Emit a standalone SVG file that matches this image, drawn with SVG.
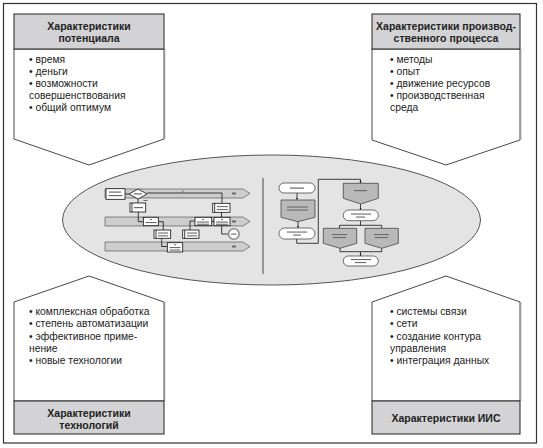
<svg xmlns="http://www.w3.org/2000/svg" width="543" height="448" viewBox="0 0 543 448">
<style>
.hd{font-family:"Liberation Sans",Arial,sans-serif;font-weight:bold;font-size:10.5px;fill:#222;text-anchor:middle}
.bd{font-family:"Liberation Sans",Arial,sans-serif;font-size:10.3px;fill:#222}
.body{fill:#fff;stroke:#333;stroke-width:0.9}
.shade{stroke:#9a9a9a;stroke-width:1.6;fill:none}
.head{fill:#d3d3d5;stroke:#222;stroke-width:1}
.bar{fill:#cdcdcd;stroke:#444;stroke-width:0.6}
.bx{fill:#fff;stroke:#111;stroke-width:0.8}
.pb{fill:#b9b9b9;stroke:#333;stroke-width:0.7}
.pill{fill:#fff;stroke:#333;stroke-width:0.7}
.ln{fill:none;stroke:#111;stroke-width:0.8}
.mt{fill:#6a6a6a}
</style>
<defs>
<marker id="ah" viewBox="0 0 6 6" refX="5" refY="3" markerWidth="3" markerHeight="3" orient="auto"><path d="M0,0 L6,3 L0,6 z" fill="#111"/></marker>
</defs>
<rect x="3.5" y="3.5" width="533" height="439.5" fill="#fff" stroke="#333" stroke-width="1.2"/>

<g id="node-potential">
<polygon class="body" points="14,49 164,49 164,139 89,165 14,139"/>
<line class="shade" x1="164.5" y1="49" x2="164.5" y2="139"/>
<rect class="head" x="14" y="14" width="150" height="35"/>
<text class="hd" x="89" y="30">Характеристики</text>
<text class="hd" x="89" y="42">потенциала</text>
<text class="bd" x="29" y="63">• время</text>
<text class="bd" x="29" y="75">• деньги</text>
<text class="bd" x="29" y="87">• возможности</text>
<text class="bd" x="29" y="99">совершенствования</text>
<text class="bd" x="29" y="111">• общий оптимум</text>
</g>

<g id="node-process">
<polygon class="body" points="372,49 520,49 520,140 446,165 372,140"/>
<line class="shade" x1="520.5" y1="49" x2="520.5" y2="140"/>
<rect class="head" x="372" y="14" width="148" height="35"/>
<text class="hd" x="446" y="30">Характеристики производ-</text>
<text class="hd" x="446" y="42">ственного процесса</text>
<text class="bd" x="390" y="63">• методы</text>
<text class="bd" x="390" y="75">• опыт</text>
<text class="bd" x="390" y="87">• движение ресурсов</text>
<text class="bd" x="390" y="99">• производственная</text>
<text class="bd" x="390" y="111">среда</text>
</g>

<g id="node-technology">
<polygon class="body" points="14,401 14,302 89,276 164,302 164,401"/>
<line class="shade" x1="164.5" y1="302" x2="164.5" y2="401"/>
<rect class="head" x="14" y="401" width="150" height="33"/>
<text class="hd" x="89" y="416.5">Характеристики</text>
<text class="hd" x="89" y="429">технологий</text>
<text class="bd" x="29" y="315">• комплексная обработка</text>
<text class="bd" x="29" y="327.3">• степень автоматизации</text>
<text class="bd" x="29" y="339.6">• эффективное приме-</text>
<text class="bd" x="29" y="352">нение</text>
<text class="bd" x="29" y="364.3">• новые технологии</text>
</g>

<g id="node-iis">
<polygon class="body" points="372,401 372,302 446,276 520,302 520,401"/>
<line class="shade" x1="520.5" y1="302" x2="520.5" y2="401"/>
<rect class="head" x="372" y="401" width="148" height="33"/>
<text class="hd" x="446" y="421.7">Характеристики ИИС</text>
<text class="bd" x="390" y="315">• системы связи</text>
<text class="bd" x="390" y="327.3">• сети</text>
<text class="bd" x="390" y="339.6">• создание контура</text>
<text class="bd" x="390" y="352">управления</text>
<text class="bd" x="390" y="364.3">• интеграция данных</text>
</g>

<g id="node-center">
<ellipse cx="271.5" cy="220" rx="209" ry="65" fill="#e4e4e4" stroke="#555" stroke-width="1"/>
<line x1="263" y1="178" x2="263" y2="274" stroke="#333" stroke-width="0.9"/>

<!-- left swimlane sketch -->
<polygon class="bar" points="105,189 243,189 250,193.5 243,198 105,198"/>
<polygon class="bar" points="105,217 243,217 250,221.5 243,226 105,226"/>
<polygon class="bar" points="105,242 243,242 250,246.5 243,251 105,251"/>
<rect class="mt" x="232" y="192.5" width="4" height="2"/>
<rect class="mt" x="232" y="220.5" width="4" height="2"/>
<rect class="mt" x="232" y="245.5" width="4" height="2"/>

<g class="ln">
<path d="M125,194 H129"/>
<path d="M147,193 H222 V203.3"/>
<path d="M138,199 V203"/>
<path d="M138.3,212 V221.7 H143.3"/>
<path d="M158.3,221.7 H163.3 V230"/>
<path d="M161.7,238.3 V246.5 H167.3"/>
<path d="M190,230 V221 H195"/>
<path d="M211.7,221.5 H214"/>
<path d="M221.5,212.3 V217.3"/>
<path d="M221.7,225.7 V234 H228"/>
</g>
<rect class="mt" x="182.5" y="190.5" width="1" height="2"/>

<rect class="bx" x="106" y="188.7" width="19" height="10.6"/>
<rect class="mt" x="109" y="191.5" width="12" height="1.2"/>
<rect class="mt" x="108.5" y="195" width="14" height="1.2"/>
<polygon class="bx" points="129,194 138,189 147,194 138,199"/>
<rect class="mt" x="134" y="193.3" width="8" height="1.2"/>
<rect class="mt" x="143.5" y="200" width="4" height="1"/>

<rect class="bx" x="130" y="203" width="15.7" height="9"/>
<line class="ln" x1="132" y1="203" x2="132" y2="212"/>
<rect class="mt" x="134" y="207" width="9" height="1.2"/>

<rect class="bx" x="212.7" y="203.3" width="17.3" height="9"/>
<line class="ln" x1="214.7" y1="203.3" x2="214.7" y2="212.3"/>
<rect class="mt" x="217" y="206" width="11" height="1.1"/>
<rect class="mt" x="217" y="209" width="11" height="1.1"/>

<rect class="bx" x="143.3" y="217.3" width="15" height="8.4"/>
<rect class="mt" x="150" y="219" width="2" height="1"/>
<rect class="mt" x="145.5" y="222" width="11" height="1.1"/>

<rect class="bx" x="154" y="230" width="16.7" height="8.3"/>
<line class="ln" x1="156" y1="230" x2="156" y2="238.3"/>
<rect class="mt" x="158" y="232.5" width="10" height="1.1"/>
<rect class="mt" x="158" y="235.3" width="10" height="1.1"/>

<rect class="bx" x="167.3" y="242.7" width="15.4" height="9.3"/>
<rect class="mt" x="174" y="244.3" width="2" height="1"/>
<rect class="mt" x="169.5" y="247" width="11" height="1.1"/>
<rect class="mt" x="169.5" y="249.5" width="11" height="1.1"/>

<rect class="bx" x="182.7" y="230" width="16.3" height="8.3"/>
<line class="ln" x1="184.7" y1="230" x2="184.7" y2="238.3"/>
<rect class="mt" x="187" y="232.5" width="10" height="1.1"/>
<rect class="mt" x="187" y="235.3" width="10" height="1.1"/>

<rect class="bx" x="195" y="217.3" width="16.7" height="8.4"/>
<rect class="mt" x="202" y="219" width="2" height="1"/>
<rect class="mt" x="197" y="221.5" width="12" height="1.1"/>
<rect class="mt" x="197" y="223.7" width="12" height="1.1"/>

<rect class="bx" x="214" y="217.3" width="16" height="8.4"/>
<rect class="mt" x="221" y="219" width="2" height="1"/>
<rect class="mt" x="216" y="221.5" width="12" height="1.1"/>
<rect class="mt" x="216" y="223.7" width="12" height="1.1"/>

<circle cx="233.8" cy="234" r="5.3" fill="#fff" stroke="#8a8a8a" stroke-width="1.6"/>
<rect class="mt" x="231" y="233.5" width="5.6" height="1.1"/>

<!-- right flowchart sketch -->
<g class="ln">
<path d="M297,193 V199.5" marker-end="url(#ah)"/>
<path d="M298,222 V227.5" marker-end="url(#ah)"/>
<path d="M296.7,239 V243.3 H318.3 V179.3 H360.5 V182.8" marker-end="url(#ah)"/>
<path d="M360.5,204 V209.5" marker-end="url(#ah)"/>
<path d="M360.5,221 V225.3"/>
<path d="M339.5,228 V225.3 H381.7 V228"/>
<path d="M340,248.3 V251.7 H381.7 V248.3"/>
<path d="M360.5,251.7 V255.5" marker-end="url(#ah)"/>
</g>

<rect class="pill" x="279" y="183" width="36" height="10" rx="5"/>
<rect class="mt" x="290" y="187.5" width="14" height="1.2"/>
<polygon class="pb" points="281,200 315,200 315,217.3 298,221.7 281,217.3"/>
<rect class="mt" x="287" y="206.5" width="21" height="1.1"/>
<rect class="mt" x="287" y="209.5" width="21" height="1.1"/>
<rect class="pill" x="279" y="228" width="36" height="11" rx="5.5"/>
<rect class="mt" x="287" y="231.5" width="20" height="1.1"/>
<rect class="mt" x="293" y="234.5" width="8" height="1.1"/>

<polygon class="pb" points="343.3,183.3 378.3,183.3 378.3,198.3 360.8,204 343.3,198.3"/>
<rect class="mt" x="354" y="190" width="13" height="1.2"/>
<rect class="pill" x="343.3" y="210" width="35" height="10.7" rx="5.3"/>
<rect class="mt" x="351" y="213.5" width="20" height="1.1"/>
<rect class="mt" x="356" y="216.5" width="9" height="1.1"/>

<polygon class="pb" points="323.3,228.3 356.7,228.3 356.7,243.3 340,248.3 323.3,243.3"/>
<rect class="mt" x="332" y="234" width="15" height="1.1"/>
<rect class="mt" x="333" y="237" width="13" height="1.1"/>
<polygon class="pb" points="365,228.3 398.3,228.3 398.3,243.3 381.7,248.3 365,243.3"/>
<rect class="mt" x="374" y="234" width="15" height="1.1"/>
<rect class="mt" x="375" y="237" width="13" height="1.1"/>

<rect class="pill" x="343.3" y="256" width="35" height="10" rx="5"/>
<rect class="mt" x="351" y="259" width="20" height="1.1"/>
<rect class="mt" x="355" y="262" width="11" height="1.1"/>
</g>
</svg>
